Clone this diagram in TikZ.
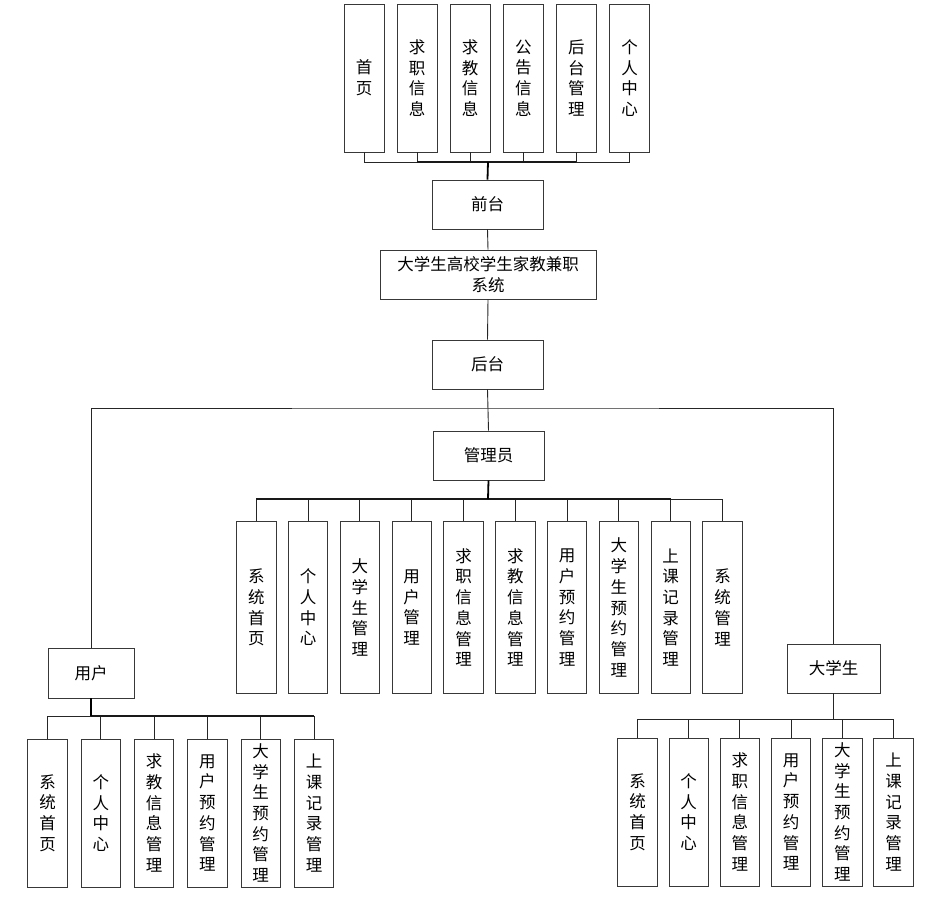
\documentclass[tikz,border=0pt]{standalone}
\usepackage{fontspec}
\newfontfamily\cjk{Noto Sans CJK SC}
\begin{document}
\begin{tikzpicture}[x=1pt,y=-1pt,
  bx/.style={draw=black!78,line width=0.9pt,inner sep=0pt,align=center,
    font=\cjk\fontsize{16.5}{20.7}\selectfont},
  tbox/.style={bx,minimum width=40,minimum height=148},
  abox/.style={bx,minimum width=39.5,minimum height=172},
  cbox/.style={bx,minimum width=39.5,minimum height=148},
  hbox/.style={bx,minimum height=49},
  ln/.style={draw=black!85,line width=0.9pt},
  stem/.style={draw=black,line width=1.8pt},
  bus/.style={draw=black!90,line width=1.4pt}]
\useasboundingbox (0,0) rectangle (948,898);
% top row
\foreach \i/\t [count=\k] in {0/{首\\页},1/{求\\职\\信\\息},2/{求\\教\\信\\息},3/{公\\告\\信\\息},4/{后\\台\\管\\理},5/{个\\人\\中\\心}}
  \node[tbox] (t\k) at (364+53.1*\i,78) {\t};
\node[hbox,minimum width=111] (qt) at (487.5,204.5) {前台};
\node[hbox,minimum width=216] (sys) at (488,274.5) {大学生高校学生家教兼职\\系统};
\node[hbox,minimum width=111] (ht) at (487.5,364.5) {后台};
\node[hbox,minimum width=111] (gly) at (488.5,455.5) {管理员};
\foreach \i/\t [count=\k] in {0/{系\\统\\首\\页},1/{个\\人\\中\\心},2/{大\\学\\生\\管\\理},3/{用\\户\\管\\理},4/{求\\职\\信\\息\\管\\理},5/{求\\教\\信\\息\\管\\理},6/{用\\户\\预\\约\\管\\理},7/{大\\学\\生\\预\\约\\管\\理},8/{上\\课\\记\\录\\管\\理},9/{系\\统\\管\\理}}
  \node[abox] (a\k) at (256.3+51.8*\i,607.5) {\t};
\node[hbox,minimum width=86,minimum height=50] (yh) at (91,673) {用户};
\foreach \i/\t [count=\k] in {0/{系\\统\\首\\页},1/{个\\人\\中\\心},2/{求\\教\\信\\息\\管\\理},3/{用\\户\\预\\约\\管\\理},4/{大\\学\\生\\预\\约\\管\\理},5/{上\\课\\记\\录\\管\\理}}
  \node[cbox] (u\k) at (47.5+53.3*\i,813) {\t};
\node[hbox,minimum width=93] (dxs) at (833.5,668.5) {大学生};
\foreach \i/\t [count=\k] in {0/{系\\统\\首\\页},1/{个\\人\\中\\心},2/{求\\职\\信\\息\\管\\理},3/{用\\户\\预\\约\\管\\理},4/{大\\学\\生\\预\\约\\管\\理},5/{上\\课\\记\\录\\管\\理}}
  \node[cbox] (s\k) at (637.5+51.2*\i,812) {\t};
% coordinates
\coordinate (bt) at (488,162);
\coordinate (ba) at (488,499);
\coordinate (bu) at (91,716);
\coordinate (bs) at (833.5,719);
\coordinate (hr) at (488,408);
% top connectors
\draw[ln] (t1.south) |- (bt) -| (t6.south);
\foreach \k in {2,...,5} \draw[ln] (t\k.south) -- (t\k.south |- bt);
\draw[bus] (t2.south |- bt) -- (t5.south |- bt);
\draw[stem] (bt) -- (qt.north);
\draw[ln] (qt.south) -- (sys.north);
\draw[ln] (sys.south) -- (ht.north);
\draw[ln] (ht.south) -- (gly.north);
\draw[ln] (yh.north) |- (hr) -| (dxs.north);
% admin
\draw[ln] (a1.north) |- (ba) -| (a10.north);
\foreach \k in {2,...,9} \draw[ln] (a\k.north) -- (a\k.north |- ba);
\draw[bus] (a1.north |- ba) -- (a9.north |- ba);
\draw[stem] (gly.south) -- (ba);
% user
\draw[ln] (u1.north) |- (bu) -| (u6.north);
\foreach \k in {2,...,5} \draw[ln] (u\k.north) -- (u\k.north |- bu);
\draw[bus] (bu) -- (u6.north |- bu);
\draw[stem] (yh.south) -- (bu);
% student
\draw[ln] (s1.north) |- (bs) -| (s6.north);
\foreach \k in {2,...,5} \draw[ln] (s\k.north) -- (s\k.north |- bs);
\draw[ln] (dxs.south) -- (bs);
\end{tikzpicture}
\end{document}
